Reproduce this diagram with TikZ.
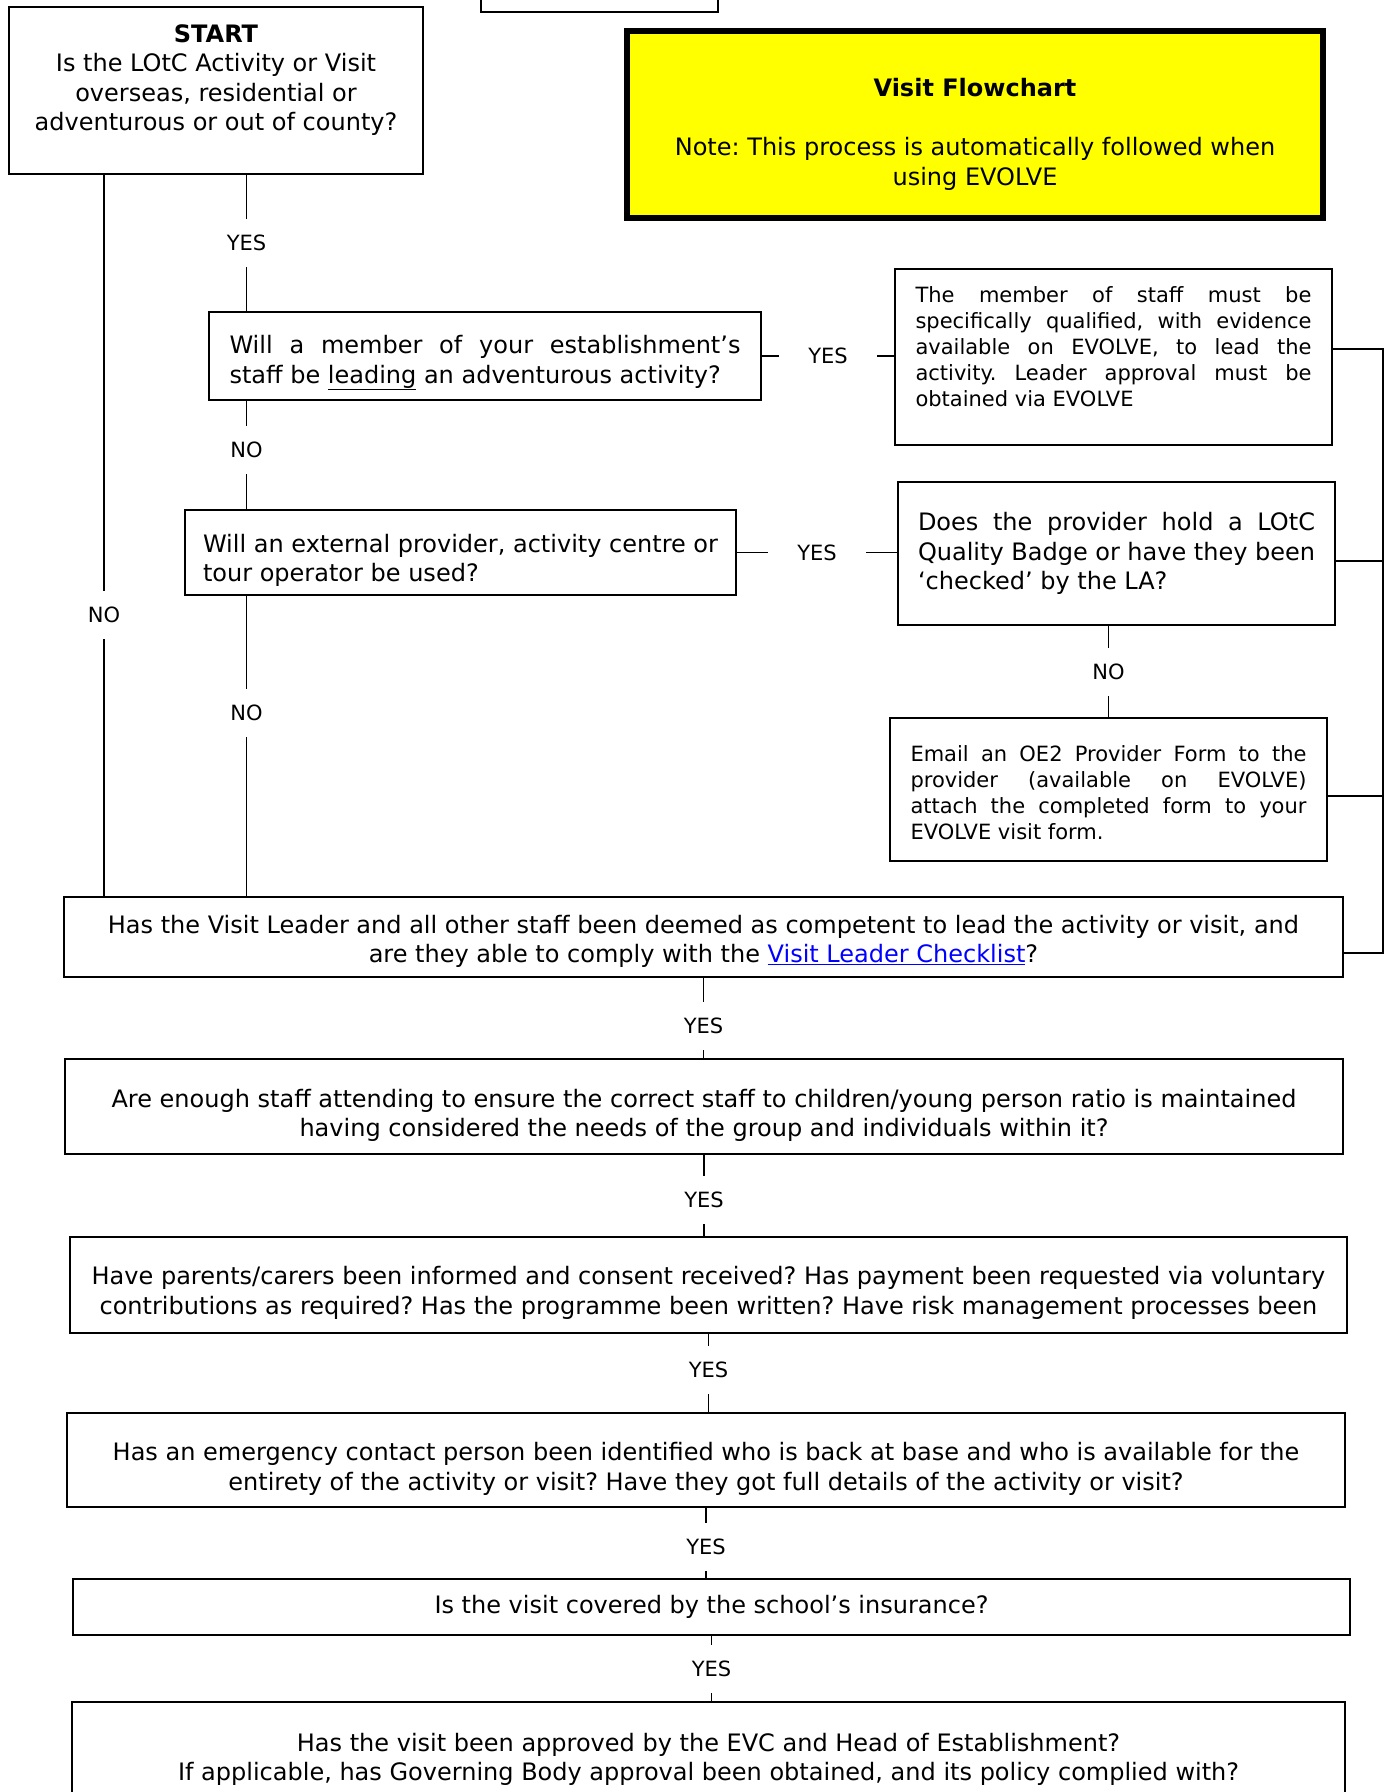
\documentclass[tikz,border=0pt]{standalone}
\usepackage{fontspec}
\setmainfont{DejaVu Sans}
\usepackage{xcolor}
\definecolor{linkblue}{RGB}{0,0,255}
\definecolor{noteyellow}{RGB}{255,255,0}
\tolerance=10000
\hyphenpenalty=10000
\frenchspacing
\newcommand{\mainsize}{\fontsize{24}{29.5}\selectfont}
\newcommand{\smallsize}{\fontsize{21}{26}\selectfont}

\tikzset{
  box/.style={draw, line width=1.4pt, inner sep=0pt, font=\mainsize},
  lbl/.style={fill=white, inner sep=0pt, minimum width=98pt, minimum height=48pt, font=\smallsize},
  link/.style={line width=1.4pt},
}

\begin{document}
\begin{tikzpicture}[x=1pt,y=-1pt]

\useasboundingbox (0,0) rectangle (1392,1792);
\clip (0,0) rectangle (1392,1792);

% top box, cut by the page edge
\node[box, minimum width=237, minimum height=52] (app) at (599.5,-14) {};

% title
\node[box, line width=5.5pt, fill=noteyellow, minimum width=696, minimum height=187, align=center] (title) at (975,124.5)
{\rule{0pt}{38pt}\textbf{Visit Flowchart}\\[29.5pt]Note: This process is automatically followed when\\using EVOLVE};

% start
\node[box, minimum width=414, minimum height=167] (start) at (216,90.5) {};
\node[font=\mainsize, align=center, inner sep=0pt] (starttext) at (216,80)
{\textbf{START}\\Is the LOtC Activity or Visit\\overseas, residential or\\adventurous or out of county?};

% questions, left column
\node[box, minimum width=552, minimum height=88, text width=511, align=justify] (lead) at (485,356)
{\rule{0pt}{32pt}Will a member of your establishment’s\linebreak staff be \underline{leading} an adventurous activity?};

\node[box, minimum width=551, minimum height=85, align=left] (prov) at (460.5,552.5)
{\rule{0pt}{34pt}Will an external provider, activity centre or\\tour operator be used?};

% right column
\node[box, minimum width=437, minimum height=176] (qual) at (1113.5,357) {};
\node[font=\smallsize, text width=396, align=justify, inner sep=0pt] (qualtext) at (1113.5,347)
{The member of staff must be\linebreak specifically qualified, with evidence\linebreak available on EVOLVE, to lead the\linebreak activity. Leader approval must be\linebreak obtained via EVOLVE};

\node[box, minimum width=437, minimum height=143, text width=397, align=justify] (badge) at (1116.5,553.5)
{Does the provider hold a LOtC\linebreak Quality Badge or have they been\linebreak ‘checked’ by the LA?};

\node[box, font=\smallsize, minimum width=437, minimum height=143, text width=396, align=justify] (oe2) at (1108.5,789.5)
{\rule{0pt}{23pt}Email an OE2 Provider Form to the\linebreak provider (available on EVOLVE)\linebreak attach the completed form to your\linebreak EVOLVE visit form.};

% main column
\node[box, minimum width=1279, minimum height=80, align=center] (comp) at (703.5,937)
{\rule{0pt}{27pt}Has the Visit Leader and all other staff been deemed as competent to lead the activity or visit, and\\are they able to comply with the \textcolor{linkblue}{\underline{Visit Leader Checklist}}?};

\node[box, minimum width=1278, minimum height=95, align=center] (ratio) at (704,1106.5)
{\rule{0pt}{36pt}Are enough staff attending to ensure the correct staff to children/young person ratio is maintained\\having considered the needs of the group and individuals within it?};

\node[box, minimum width=1277, minimum height=96, align=center] (consent) at (708.5,1285)
{\rule{0pt}{34pt}Have parents/carers been informed and consent received? Has payment been requested via voluntary\\contributions as required? Has the programme been written? Have risk management processes been};

\node[box, minimum width=1278, minimum height=94, align=center] (contact) at (706,1460)
{\rule{0pt}{36pt}Has an emergency contact person been identified who is back at base and who is available for the\\entirety of the activity or visit? Have they got full details of the activity or visit?};

\node[box, minimum width=1277, minimum height=56] (insure) at (711.5,1607)
{Is the visit covered by the school’s insurance?};

\node[box, minimum width=1273, minimum height=108, align=center] (approve) at (708.5,1756)
{\rule{0pt}{25pt}Has the visit been approved by the EVC and Head of Establishment?\\If applicable, has Governing Body approval been obtained, and its policy complied with?};

% lanes
\coordinate (nolane) at (104,0);
\coordinate (yeslane) at (246.5,0);
\coordinate (b1) at (1383,349);
\coordinate (b2) at (1383,561);
\coordinate (b3) at (1383,796);
\coordinate (b4) at (1383,953);

% connectors
\draw[link] (start.south -| nolane) -- node[lbl, pos=0.61] (no1) {NO} (comp.north -| nolane);
\draw[link] (start.south -| yeslane) -- node[lbl] (yes1) {YES} (lead.north -| yeslane);
\draw[link] (lead.south -| yeslane) -- node[lbl, pos=0.45] (no2) {NO} (prov.north -| yeslane);
\draw[link] (prov.south -| yeslane) -- node[lbl, pos=0.39] (no3) {NO} (comp.north -| yeslane);
\draw[link] (lead.east) -- node[lbl] (yes2) {YES} (lead.east -| qual.west);
\draw[link] (prov.east) -- node[lbl] (yes3) {YES} (prov.east -| badge.west);
\draw[link] (badge.south -| oe2.north) -- node[lbl] (no4) {NO} (oe2.north);

\draw[link] (comp.south) -- node[lbl, pos=0.6] (yes4) {YES} (comp.south |- ratio.north);
\draw[link] (ratio.south) -- node[lbl, pos=0.55] (yes5) {YES} (ratio.south |- consent.north);
\draw[link] (consent.south) -- node[lbl, pos=0.46] (yes6) {YES} (consent.south |- contact.north);
\draw[link] (contact.south) -- node[lbl, pos=0.56] (yes7) {YES} (contact.south |- insure.north);
\draw[link] (insure.south) -- node[lbl] (yes8) {YES} (insure.south |- approve.north);

% right bus
\draw[link] (b1 -| qual.east) -- (b1) -- (b4) -- (b4 -| comp.east);
\draw[link] (b2 -| badge.east) -- (b2);
\draw[link] (b3 -| oe2.east) -- (b3);

\end{tikzpicture}
\end{document}
